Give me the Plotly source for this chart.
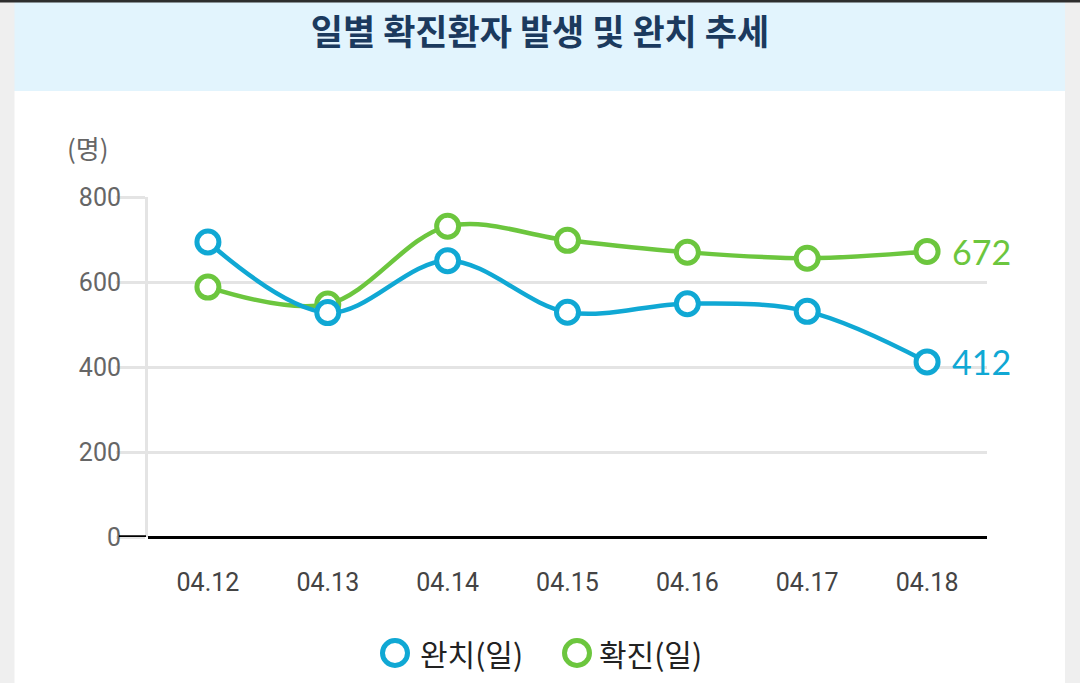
import plotly.graph_objects as go

# ---- data ----
dates = ["04.12", "04.13", "04.14", "04.15", "04.16", "04.17", "04.18"]
recovered = [694, 528, 650, 529, 549, 531, 412]   # 완치(일)
confirmed = [588, 548, 731, 698, 670, 656, 672]   # 확진(일)
y_ticks = [0, 200, 400, 600, 800]

series_names = ["완치(일)", "확진(일)"]
BLUE = "#10a8d4"
GREEN = "#6cc63e"

# ---- layout geometry (pixels) ----
W, H = 1080, 683
ML, MR, MT, MB = 148, 93, 197, 146
PW, PH = W - ML - MR, H - MT - MB


def px_x(px):
    return (px - ML) / PW


def px_y(py):
    return (H - MB - py) / PH


fig = go.Figure()

# green first so blue sits on top (as in reference)
for name, vals, col in [(series_names[1], confirmed, GREEN), (series_names[0], recovered, BLUE)]:
    fig.add_trace(go.Scatter(
        x=dates, y=vals, name=name, mode="lines+markers",
        line=dict(color=col, width=4.5, shape="spline", smoothing=1),
        marker=dict(size=22, color="white", line=dict(color=col, width=5)),
        cliponaxis=False, showlegend=False,
    ))

# end-value labels (category index of the last date)
last_idx = len(dates) - 1
annotations = []
for vals, col in [(confirmed, GREEN), (recovered, BLUE)]:
    annotations.append(dict(
        x=last_idx, y=vals[-1], xref="x", yref="y", text=str(vals[-1]),
        showarrow=False, xanchor="left", yanchor="middle", xshift=23,
        font=dict(family="Lato", size=34, color=col),
    ))

# unit label
annotations.append(dict(
    x=px_x(88), y=px_y(147), xref="paper", yref="paper", text="(명)",
    showarrow=False, xanchor="center", yanchor="middle",
    font=dict(family="Noto Sans CJK KR", size=26, color="#666666"),
))

# legend (manual, to get large ring markers)
shapes = []
leg_y = px_y(653)
for name, col, cx, tx in [(series_names[0], BLUE, 395, 418), (series_names[1], GREEN, 577, 597)]:
    shapes.append(dict(
        type="circle", xref="paper", yref="paper", xsizemode="pixel", ysizemode="pixel",
        xanchor=px_x(cx), yanchor=leg_y, x0=-12.5, x1=12.5, y0=-12.5, y1=12.5,
        line=dict(color=col, width=5), fillcolor="white", layer="above",
    ))
    annotations.append(dict(
        x=px_x(tx), y=leg_y, xref="paper", yref="paper", text=name,
        showarrow=False, xanchor="left", yanchor="middle",
        font=dict(family="Noto Sans CJK KR", size=30, color="#222222"),
    ))

# background panels
shapes = [
    dict(type="rect", xref="paper", yref="paper", layer="below",
         x0=px_x(14.5), x1=px_x(1065), y0=px_y(H + 20), y1=px_y(91),
         fillcolor="white", line=dict(width=0)),
    dict(type="rect", xref="paper", yref="paper", layer="below",
         x0=px_x(14.5), x1=px_x(1065), y0=px_y(91), y1=px_y(0),
         fillcolor="#e2f4fd", line=dict(width=0)),
    dict(type="rect", xref="paper", yref="paper", layer="above",
         x0=px_x(-10), x1=px_x(W + 10), y0=px_y(2.5), y1=px_y(-5),
         fillcolor="#2e2e2e", line=dict(width=0)),
    # black stub of the zero tick
    dict(type="line", xref="paper", yref="y", layer="above",
         x0=px_x(119), x1=px_x(146), y0=0, y1=0,
         line=dict(color="black", width=3.5)),
] + shapes

fig.update_layout(
    width=W, height=H,
    margin=dict(l=ML, r=MR, t=MT, b=MB, pad=0),
    paper_bgcolor="#efefef", plot_bgcolor="rgba(0,0,0,0)",
    title=dict(
        text="일별 확진환자 발생 및 완치 추세",
        x=0.5, xanchor="center", xref="container",
        y=1 - 33 / H, yanchor="middle", yref="container",
        font=dict(family="Noto Sans CJK KR", size=35, color="#1b3a5e", weight=700),
    ),
    xaxis=dict(
        type="category", range=[-0.5, len(dates) - 0.5],
        showgrid=False, showline=False, zeroline=False, ticks="",
        tickfont=dict(family="Roboto", size=25, color="#444444"),
        ticklabelstandoff=28, fixedrange=True,
    ),
    yaxis=dict(
        range=[0, 800], tickvals=y_ticks, ticktext=[str(v) for v in y_ticks],
        showgrid=True, gridcolor="#e4e4e4", gridwidth=3,
        showline=True, linecolor="#e4e4e4", linewidth=3,
        ticks="outside", ticklen=29, tickwidth=3, tickcolor="#e4e4e4",
        zeroline=True, zerolinecolor="black", zerolinewidth=3,
        tickfont=dict(family="Roboto", size=25, color="#666666"),
        ticklabelstandoff=-10, fixedrange=True,
    ),
    shapes=shapes,
    annotations=annotations,
    showlegend=False,
)

fig.write_html(
    "out.html",
    config={"displayModeBar": False},
    post_script="document.body.style.margin='0';document.body.style.overflow='hidden';",
)
